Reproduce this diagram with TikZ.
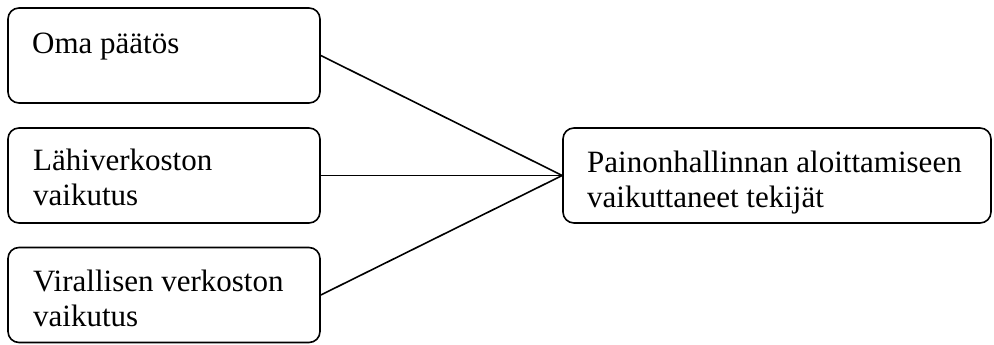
\documentclass[tikz,border=0pt]{standalone}
\usepackage{fontspec}
\setmainfont{Liberation Serif}
\begin{document}
\begin{tikzpicture}[x=1pt,y=-1pt,
  box/.style={draw, line width=1.6pt, rounded corners=11pt, inner sep=0pt,
    minimum height=95pt},
  label text/.style={anchor=north west, inner sep=0pt, align=left,
    font=\fontsize{31}{35}\selectfont},
  link/.style={draw, line width=1.6pt}]
\useasboundingbox (0,0) rectangle (994,345);
% boxes
\node[box, minimum width=312pt] (oma) at (164,55.5) {};
\node[box, minimum width=312pt] (lahi) at (164,175.5) {};
\node[box, minimum width=312pt] (viral) at (164,295) {};
\node[box, minimum width=428pt] (paino) at (777,175.5) {};
% texts inside the boxes
\node[label text] (omat) at (32,28.5) {\strut Oma päätös};
\node[label text] (lahit) at (33,145.5) {\strut Lähiverkoston\\vaikutus};
\node[label text] (viralt) at (33,266.5) {\strut Virallisen verkoston\\vaikutus};
\node[label text] (painot) at (587,148.2) {\strut Painonhallinnan aloittamiseen\\vaikuttaneet tekijät};
% connectors
\draw[link] (oma.east) -- (paino.west);
\draw[link] (lahi.east) -- (paino.west);
\draw[link] (viral.east) -- (paino.west);
\end{tikzpicture}
\end{document}
